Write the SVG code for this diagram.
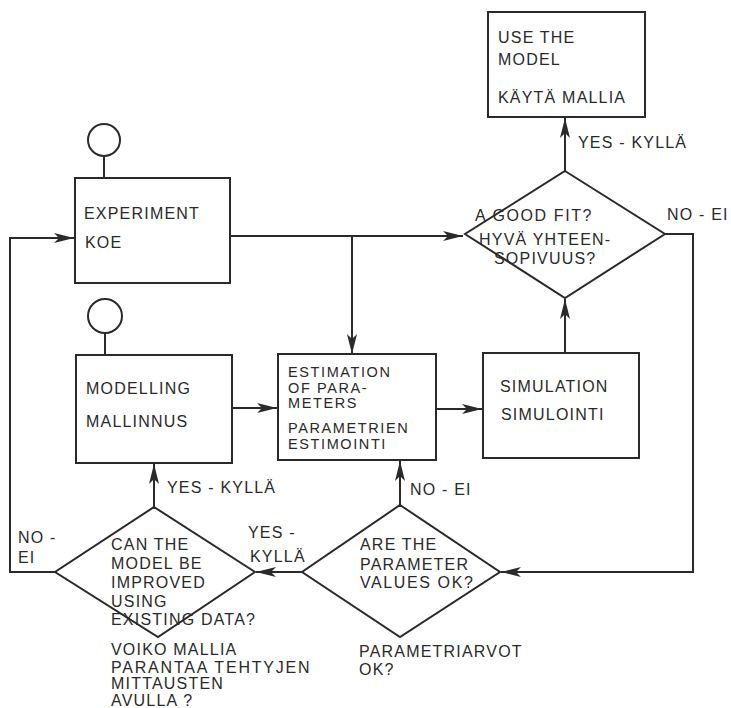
<svg xmlns="http://www.w3.org/2000/svg" width="731" height="708" viewBox="0 0 731 708">
<style>
.s{fill:none;stroke:#2a2a2a;stroke-width:2}
.t{font-family:"Liberation Sans",Arial,sans-serif;font-size:16px;fill:#2a2a2a;letter-spacing:1.2px}
.e{font-size:14.5px;letter-spacing:1.6px}
</style>
<defs>
<marker id="a" markerUnits="userSpaceOnUse" markerWidth="22" markerHeight="12" refX="20" refY="5" orient="auto">
<path d="M0,0 L20,5 L0,10 L5,5 Z" fill="#2a2a2a"/>
</marker>
</defs>
<rect width="731" height="708" fill="#fff"/>
<g id="connectors">
<path class="s" d="M230,236 L463,236" marker-end="url(#a)"/>
<path class="s" d="M352,236 L352,354" marker-end="url(#a)"/>
<path class="s" d="M232,408 L277,408" marker-end="url(#a)"/>
<path class="s" d="M436,409 L482,409" marker-end="url(#a)"/>
<path class="s" d="M565,353 L565,299" marker-end="url(#a)"/>
<path class="s" d="M565,171 L565,118" marker-end="url(#a)"/>
<path class="s" d="M665,234 L693,234 L693,572 L501,572" marker-end="url(#a)"/>
<path class="s" d="M400,505 L400,461" marker-end="url(#a)"/>
<path class="s" d="M302,572 L256,572" marker-end="url(#a)"/>
<path class="s" d="M154,507 L154,464" marker-end="url(#a)"/>
<path class="s" d="M55,572 L10,572 L10,238 L74,238" marker-end="url(#a)"/>
<text class="t" x="578" y="148">YES - KYLLÄ</text>
<text class="t" x="667" y="220">NO - EI</text>
<text class="t" x="410" y="495">NO - EI</text>
<text class="t" x="167" y="493">YES - KYLLÄ</text>
<text class="t" x="248" y="538">YES -</text>
<text class="t" x="250" y="562">KYLLÄ</text>
<text class="t" x="18" y="543">NO -</text>
<text class="t" x="18" y="563">EI</text>
</g>
<g id="experiment">
<circle class="s" cx="104" cy="140" r="16"/>
<path class="s" d="M104,156 L104,178"/>
<rect class="s" x="75" y="178" width="155" height="105"/>
<text class="t" x="84" y="219">EXPERIMENT</text>
<text class="t" x="85" y="248">KOE</text>
</g>
<g id="modelling">
<circle class="s" cx="105" cy="316" r="17"/>
<path class="s" d="M105,333 L105,355"/>
<rect class="s" x="76" y="355" width="156" height="108"/>
<text class="t" x="86" y="394">MODELLING</text>
<text class="t" x="86" y="427">MALLINNUS</text>
</g>
<g id="estimation">
<rect class="s" x="278" y="354" width="158" height="106"/>
<text class="t e" x="288" y="377">ESTIMATION</text>
<text class="t e" x="288" y="392.5">OF PARA-</text>
<text class="t e" x="288" y="408">METERS</text>
<text class="t e" x="288" y="433">PARAMETRIEN</text>
<text class="t e" x="288" y="449">ESTIMOINTI</text>
</g>
<g id="simulation">
<rect class="s" x="483" y="353" width="156" height="105"/>
<text class="t" x="500" y="392">SIMULATION</text>
<text class="t" x="501" y="420">SIMULOINTI</text>
</g>
<g id="use-model">
<rect class="s" x="488" y="12" width="157" height="105"/>
<text class="t" x="498" y="43">USE THE</text>
<text class="t" x="498" y="65">MODEL</text>
<text class="t" x="498" y="103">KÄYTÄ MALLIA</text>
</g>
<g id="good-fit">
<path class="s" d="M565,171 L665,234 L565,298 L465,234 Z"/>
<text class="t" x="475" y="221" style="letter-spacing:1.6px">A GOOD FIT?</text>
<text class="t" x="479" y="245">HYVÄ YHTEEN-</text>
<text class="t" x="494" y="264">SOPIVUUS?</text>
</g>
<g id="parameters-ok">
<path class="s" d="M400,505 L500,572 L400,637 L302,572 Z"/>
<text class="t" x="360" y="550">ARE THE</text>
<text class="t" x="360" y="570">PARAMETER</text>
<text class="t" x="360" y="588" style="letter-spacing:1.6px">VALUES OK?</text>
<text class="t" x="359" y="657">PARAMETRIARVOT</text>
<text class="t" x="359" y="675">OK?</text>
</g>
<g id="improve">
<path class="s" d="M154,507 L255,572 L158,637 L55,572 Z"/>
<text class="t" x="111" y="550">CAN THE</text>
<text class="t" x="111" y="569">MODEL BE</text>
<text class="t" x="111" y="588">IMPROVED</text>
<text class="t" x="111" y="607">USING</text>
<text class="t" x="111" y="625">EXISTING DATA?</text>
<text class="t" x="111" y="655">VOIKO MALLIA</text>
<text class="t" x="111" y="673" style="letter-spacing:1.8px">PARANTAA TEHTYJEN</text>
<text class="t" x="111" y="689">MITTAUSTEN</text>
<text class="t" x="111" y="706">AVULLA ?</text>
</g>
</svg>
